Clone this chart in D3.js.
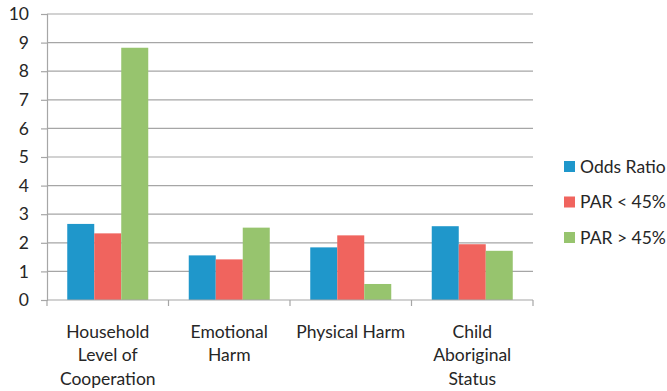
<!DOCTYPE html>
<html>
<head>
<meta charset="utf-8">
<script src="https://cdn.jsdelivr.net/npm/d3@7"></script>
<style>
  html, body { margin: 0; padding: 0; background: #fff; }
  svg { display: block; }
  text { font-family: Lato, "Open Sans", sans-serif; fill: #262626; }
</style>
</head>
<body>
<svg id="chart" width="667" height="391"></svg>
<script>
// Categories (multi-line labels) and series values
const categories = ["Household Level of Cooperation", "Emotional Harm", "Physical Harm", "Child Aboriginal Status"];
const categoryLines = [["Household", "Level of", "Cooperation"], ["Emotional", "Harm"], ["Physical Harm"], ["Child", "Aboriginal", "Status"]];
const seriesNames = ["Odds Ratio", "PAR < 45%", "PAR > 45%"];
const oddsRatio = [2.66, 1.56, 1.84, 2.58];
const parBelow45 = [2.33, 1.42, 2.26, 1.95];
const parAbove45 = [8.82, 2.53, 0.56, 1.72];
const yTicks = [0, 1, 2, 3, 4, 5, 6, 7, 8, 9, 10];
const colors = ["#1f97cb", "#f0645e", "#97c46e"];

const seriesValues = [oddsRatio, parBelow45, parAbove45];

const svg = d3.select("#chart");
const plot = { left: 47, right: 533, top: 14, bottom: 300 };
const fontSize = 17.5;

const x = d3.scaleBand().domain(categories).range([plot.left, plot.right]).paddingInner(0).paddingOuter(0);
const inner = d3.scaleBand().domain(seriesNames).range([0, x.bandwidth()]).paddingInner(0).paddingOuter(0.75);
const y = d3.scaleLinear().domain([0, 10]).range([plot.bottom, plot.top]);

// Horizontal gridlines
svg.append("g")
  .selectAll("line")
  .data(yTicks.filter(d => d > 0))
  .join("line")
  .attr("x1", plot.left).attr("x2", plot.right)
  .attr("y1", d => y(d)).attr("y2", d => y(d))
  .attr("stroke", "#a6a6a6").attr("stroke-width", 1.2);

// Y axis
const yAxis = svg.append("g")
  .attr("transform", `translate(${plot.left},0)`)
  .call(d3.axisLeft(y).tickValues(yTicks).tickSize(6).tickPadding(12).tickFormat(d3.format("d")));
yAxis.select(".domain").attr("stroke", "#a6a6a6").attr("stroke-width", 1.2);
yAxis.selectAll(".tick line").attr("stroke", "#a6a6a6").attr("stroke-width", 1.2);
yAxis.selectAll(".tick text")
  .style("font-family", "Lato, 'Open Sans', sans-serif")
  .attr("font-size", fontSize).attr("fill", "#262626");

// Bars
const groups = svg.append("g")
  .selectAll("g")
  .data(categories)
  .join("g")
  .attr("transform", d => `translate(${x(d)},0)`);

groups.selectAll("rect")
  .data((d, i) => seriesNames.map((s, j) => ({ s, v: seriesValues[j][i], c: colors[j] })))
  .join("rect")
  .attr("x", d => inner(d.s))
  .attr("width", inner.bandwidth())
  .attr("y", d => y(d.v))
  .attr("height", d => y(0) - y(d.v))
  .attr("fill", d => d.c);

// X axis
const xAxisG = svg.append("g").attr("transform", `translate(0,${plot.bottom})`);
xAxisG.append("line")
  .attr("x1", plot.left).attr("x2", plot.right)
  .attr("stroke", "#a6a6a6").attr("stroke-width", 1.2);
const boundaries = categories.map(c => x(c)).concat([plot.right]);
xAxisG.selectAll("line.tk")
  .data(boundaries)
  .join("line").attr("class", "tk")
  .attr("x1", d => d).attr("x2", d => d)
  .attr("y1", 0).attr("y2", 6)
  .attr("stroke", "#a6a6a6").attr("stroke-width", 1.2);

// Category labels
const labels = svg.append("g")
  .selectAll("text")
  .data(categories)
  .join("text")
  .attr("text-anchor", "middle")
  .attr("font-size", fontSize);
labels.each(function(d, i) {
  const t = d3.select(this);
  categoryLines[i].forEach((line, k) => {
    t.append("tspan")
      .attr("x", x(d) + x.bandwidth() / 2)
      .attr("y", 338 + k * 23.3)
      .text(line);
  });
});

// Legend
const legend = svg.append("g")
  .selectAll("g")
  .data(seriesNames)
  .join("g")
  .attr("transform", (d, i) => `translate(564,${166.5 + i * 35.5})`);
legend.append("rect")
  .attr("x", 0).attr("y", -5.5).attr("width", 11).attr("height", 11)
  .attr("fill", (d, i) => colors[i]);
legend.append("text")
  .attr("x", 16).attr("y", 6)
  .attr("font-size", fontSize)
  .text(d => d);
</script>
</body>
</html>
